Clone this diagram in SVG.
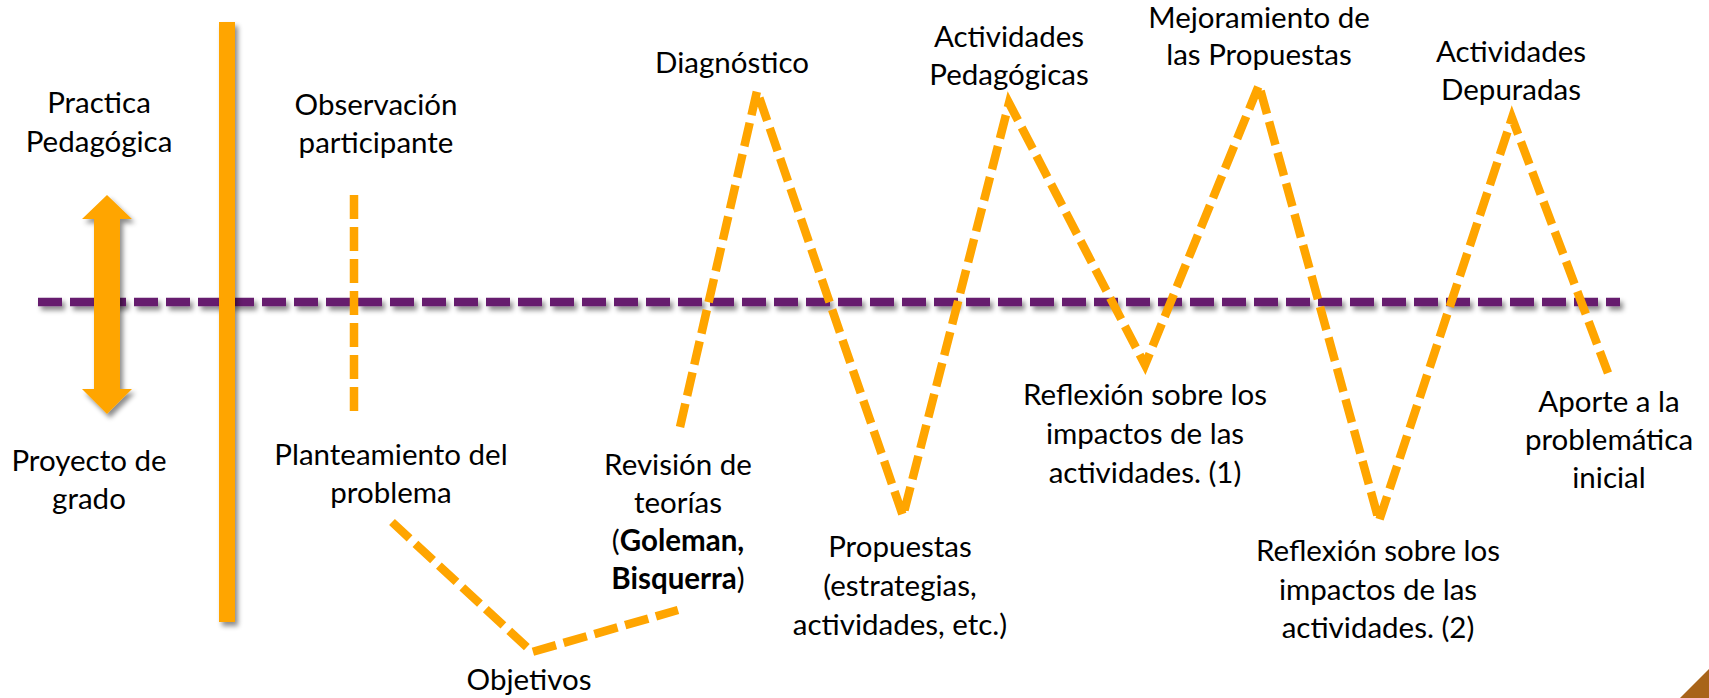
<svg xmlns="http://www.w3.org/2000/svg" width="1709" height="698" viewBox="0 0 1709 698">
<defs>
<filter id="sh" filterUnits="userSpaceOnUse" x="0" y="0" width="1709" height="698">
<feDropShadow dx="3" dy="4" stdDeviation="2.5" flood-color="#000" flood-opacity="0.45"/>
</filter>
<style>
.t{font-family:"Lato","Open Sans","Liberation Sans",sans-serif;font-size:29.5px;fill:#000;text-anchor:middle}
.b{font-weight:bold}
.od{fill:none;stroke:#FFA500;stroke-width:8.5;stroke-dasharray:24 8;stroke-linejoin:miter;stroke-miterlimit:10}
</style>
</defs>
<rect width="1709" height="698" fill="#fff"/>
<g id="connectors">
<line id="axis" x1="38" y1="302" x2="1620" y2="302" stroke="#661C6E" stroke-width="8.5" stroke-dasharray="24 8" filter="url(#sh)"/>
<line id="divider" x1="227" y1="22" x2="227" y2="622" stroke="#FFA500" stroke-width="16" filter="url(#sh)"/>
<polygon id="double-arrow" points="107,195 132,219 120,219 120,389 132,389 107,414 82,389 94,389 94,219 82,219" fill="#FFA500" filter="url(#sh)"/>
<line class="od" x1="354" y1="195" x2="354" y2="411"/>
<polyline class="od" points="392,522 532,652 678,610"/>
<polyline class="od" points="680,427 757,91 903,516 1009,103 1145,365 1259,85 1379,521 1512,118 1608,373"/>
</g>
<g id="practica"><text class="t" x="99" y="113">Practica</text><text class="t" x="99" y="152">Pedagógica</text></g>
<g id="proyecto"><text class="t" x="89" y="471">Proyecto de</text><text class="t" x="89" y="509">grado</text></g>
<g id="observacion"><text class="t" x="376" y="115">Observación</text><text class="t" x="376" y="153">participante</text></g>
<g id="planteamiento"><text class="t" x="391" y="465">Planteamiento del</text><text class="t" x="391" y="503">problema</text></g>
<g id="objetivos"><text class="t" x="529" y="690">Objetivos</text></g>
<g id="revision"><text class="t" x="678" y="475">Revisión de</text><text class="t" x="678" y="513">teorías</text><text class="t" x="678" y="551">(<tspan class="b">Goleman,</tspan></text><text class="t" x="678" y="589"><tspan class="b">Bisquerra</tspan>)</text></g>
<g id="diagnostico"><text class="t" x="732" y="73">Diagnóstico</text></g>
<g id="propuestas"><text class="t" x="900" y="557">Propuestas</text><text class="t" x="900" y="596">(estrategias,</text><text class="t" x="900" y="635">actividades, etc.)</text></g>
<g id="actividades-pedagogicas"><text class="t" x="1009" y="47">Actividades</text><text class="t" x="1009" y="85">Pedagógicas</text></g>
<g id="reflexion-1"><text class="t" x="1145" y="405">Reflexión sobre los</text><text class="t" x="1145" y="444">impactos de las</text><text class="t" x="1145" y="483">actividades. (1)</text></g>
<g id="mejoramiento"><text class="t" x="1259" y="28">Mejoramiento de</text><text class="t" x="1259" y="65">las Propuestas</text></g>
<g id="reflexion-2"><text class="t" x="1378" y="561">Reflexión sobre los</text><text class="t" x="1378" y="600">impactos de las</text><text class="t" x="1378" y="638">actividades. (2)</text></g>
<g id="actividades-depuradas"><text class="t" x="1511" y="62">Actividades</text><text class="t" x="1511" y="100">Depuradas</text></g>
<g id="aporte"><text class="t" x="1609" y="412">Aporte a la</text><text class="t" x="1609" y="450">problemática</text><text class="t" x="1609" y="488">inicial</text></g>
<polygon id="corner" points="1680,698 1709,669 1709,698" fill="#A86419"/>
</svg>
